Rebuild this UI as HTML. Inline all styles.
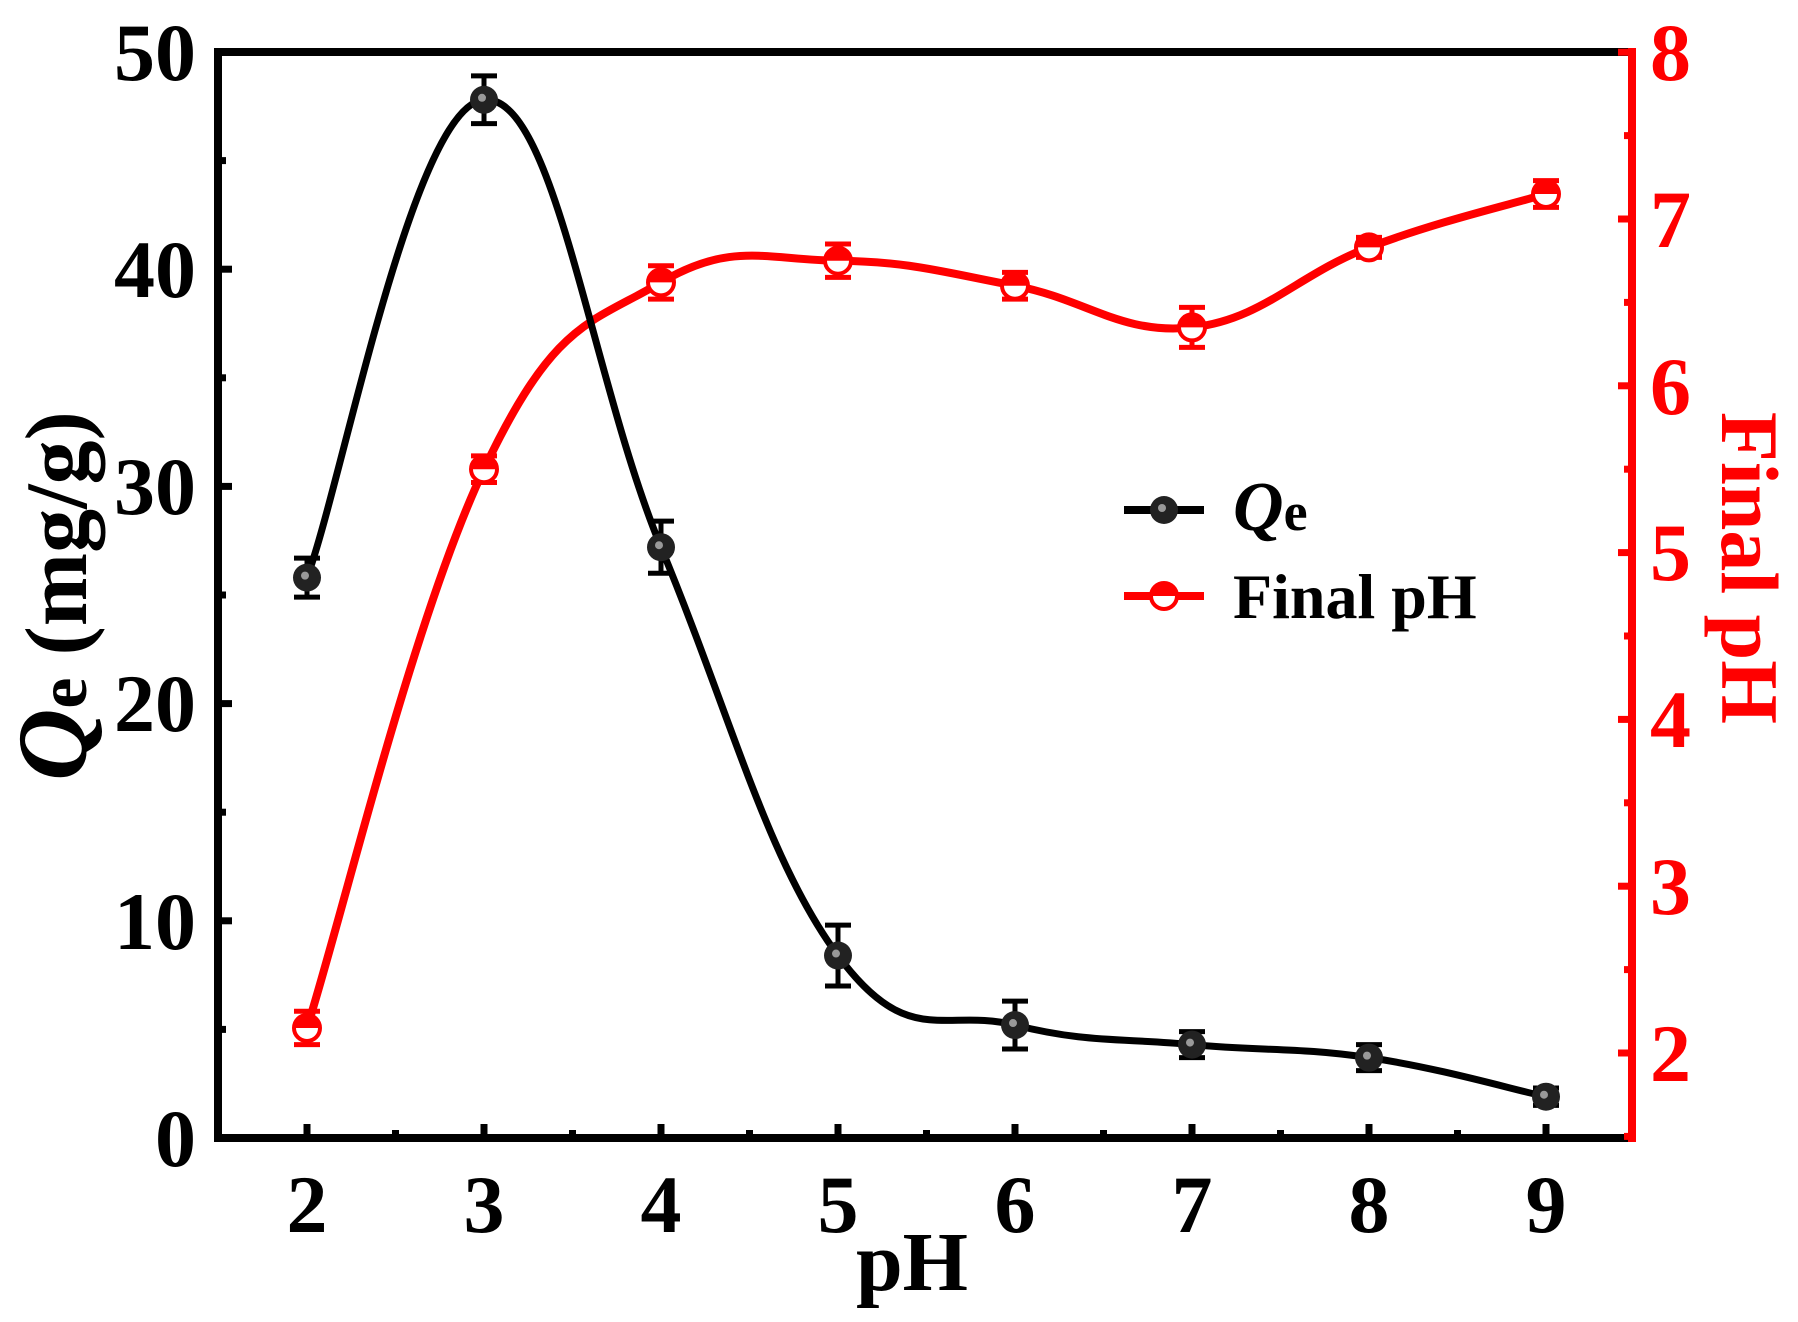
<!DOCTYPE html>
<html><head><meta charset="utf-8"><style>
html,body{margin:0;padding:0;background:#fff;}
svg{display:block;font-family:"Liberation Serif",serif;font-weight:bold;}
</style></head><body>
<svg id="s" width="1798" height="1322" viewBox="0 0 1798 1322" xmlns="http://www.w3.org/2000/svg">
<g id="plot"></g>
<line x1="218" y1="52" x2="1636" y2="52" stroke="#000" stroke-width="8"/>
<line x1="218" y1="48" x2="218" y2="1142" stroke="#000" stroke-width="8"/>
<line x1="214" y1="1138" x2="1632" y2="1138" stroke="#000" stroke-width="8"/>
<line x1="1632" y1="48" x2="1632" y2="1142" stroke="#f00" stroke-width="8"/>
<g id="ticks"></g>
<g font-size="82" text-anchor="end" fill="#000">
<text x="196" y="1166">0</text><text x="196" y="949">10</text><text x="196" y="731">20</text>
<text x="196" y="514">30</text><text x="196" y="297">40</text><text x="196" y="80">50</text>
</g>
<g font-size="82" text-anchor="middle" fill="#000">
<text x="307" y="1232">2</text><text x="484" y="1232">3</text><text x="661" y="1232">4</text><text x="838" y="1232">5</text>
<text x="1015" y="1232">6</text><text x="1192" y="1232">7</text><text x="1369" y="1232">8</text><text x="1546" y="1232">9</text>
</g>
<g font-size="82" text-anchor="start" fill="#f00">
<text x="1650" y="1081">2</text><text x="1650" y="914">3</text><text x="1650" y="747">4</text><text x="1650" y="580">5</text>
<text x="1650" y="414">6</text><text x="1650" y="247">7</text><text x="1650" y="80">8</text>
</g>
<text x="912" y="1290" font-size="84" text-anchor="middle">pH</text>
<text transform="translate(86,596) rotate(-90)" font-size="88" text-anchor="middle"><tspan font-style="italic" font-size="100">Q</tspan><tspan font-size="70">e</tspan> (mg/g)</text>
<text transform="translate(1722,568) rotate(90)" font-size="82" text-anchor="middle" fill="#f00">Final pH</text>
<line x1="1124" y1="510" x2="1204" y2="510" stroke="#000" stroke-width="8"/>
<circle cx="1164" cy="510" r="14" fill="#222"/><circle cx="1162" cy="508" r="4" fill="#999"/>
<text x="1233" y="530" font-size="64"><tspan font-style="italic" font-size="70">Q</tspan><tspan font-size="54">e</tspan></text>
<line x1="1124" y1="596" x2="1204" y2="596" stroke="#f00" stroke-width="8"/>
<circle cx="1164" cy="596" r="13" fill="#fff" stroke="#f00" stroke-width="4"/>
<path d="M1151 596 A13 13 0 0 1 1177 596 Z" fill="#f00"/>
<text x="1233" y="618" font-size="64">Final pH</text>
</svg>
<script>
var NS="http://www.w3.org/2000/svg";
function X(v){return 307+(v-2)*177;}
function YL(v){return 1138-v*21.72;}
function YR(v){return 1053-(v-2)*166.8;}
function el(p,t,a){var e=document.createElementNS(NS,t);for(var k in a)e.setAttribute(k,a[k]);p.appendChild(e);return e;}
var tk=document.getElementById('ticks'),pl=document.getElementById('plot');
for(var i=0;i<=10;i++){var y=1138-i*108.6;var l=(i%2==0)?14:8;el(tk,'line',{x1:218,x2:218+l,y1:y,y2:y,stroke:'#000','stroke-width':7});}
for(var i=-1;i<=15;i++){var xx=307+i*88.5;if(xx>1630)break;var l=(i%2==0)?14:8;el(tk,'line',{x1:xx,x2:xx,y1:1138,y2:1138-l,stroke:'#000','stroke-width':7});}
for(var i=0;i<=13;i++){var y=YR(1.5+i*0.5);if(y<52)break;var l=(i%2==1)?14:8;el(tk,'line',{x1:1632,x2:1632-l,y1:y,y2:y,stroke:'#f00','stroke-width':7});}
function spline(pts,t){var d="M"+pts[0][0]+" "+pts[0][1];for(var i=0;i<pts.length-1;i++){var p0=pts[i-1]||pts[i],p1=pts[i],p2=pts[i+1],p3=pts[i+2]||p2;d+=" C"+(p1[0]+(p2[0]-p0[0])*t)+" "+(p1[1]+(p2[1]-p0[1])*t)+" "+(p2[0]-(p3[0]-p1[0])*t)+" "+(p2[1]-(p3[1]-p1[1])*t)+" "+p2[0]+" "+p2[1];}return d;}
var q=[25.8,47.8,27.2,8.4,5.2,4.3,3.7,1.9],qe=[0.9,1.1,1.2,1.4,1.1,0.6,0.6,0.4];
var f=[2.15,5.5,6.62,6.75,6.6,6.35,6.83,7.15],fe=[0.1,0.08,0.1,0.1,0.08,0.12,0.06,0.08];
var pq=[],pf=[];for(var i=0;i<8;i++){pq.push([X(i+2),YL(q[i])]);pf.push([X(i+2),YR(f[i])]);}
el(pl,'path',{d:spline(pf,0.2),fill:'none',stroke:'#f00','stroke-width':8});
el(pl,'path',{d:spline(pq,0.2),fill:'none',stroke:'#000','stroke-width':7});
for(var i=0;i<8;i++){var x=pf[i][0],y=pf[i][1],e=fe[i]*166.8;
el(pl,'line',{x1:x,x2:x,y1:y-e,y2:y+e,stroke:'#f00','stroke-width':5});
el(pl,'line',{x1:x-13,x2:x+13,y1:y-e,y2:y-e,stroke:'#f00','stroke-width':5});
el(pl,'line',{x1:x-13,x2:x+13,y1:y+e,y2:y+e,stroke:'#f00','stroke-width':5});
el(pl,'circle',{cx:x,cy:y,r:13,fill:'#fff',stroke:'#f00','stroke-width':4});
el(pl,'path',{d:"M"+(x-13)+" "+y+" A13 13 0 0 1 "+(x+13)+" "+y+" Z",fill:'#f00'});}
for(var i=0;i<8;i++){var x=pq[i][0],y=pq[i][1],e=qe[i]*21.72;
el(pl,'line',{x1:x,x2:x,y1:y-e,y2:y+e,stroke:'#000','stroke-width':5});
el(pl,'line',{x1:x-13,x2:x+13,y1:y-e,y2:y-e,stroke:'#000','stroke-width':5});
el(pl,'line',{x1:x-13,x2:x+13,y1:y+e,y2:y+e,stroke:'#000','stroke-width':5});
el(pl,'circle',{cx:x,cy:y,r:14,fill:'#222'});el(pl,'circle',{cx:x-2,cy:y-2,r:4,fill:'#999'});}
</script>
</body></html>
